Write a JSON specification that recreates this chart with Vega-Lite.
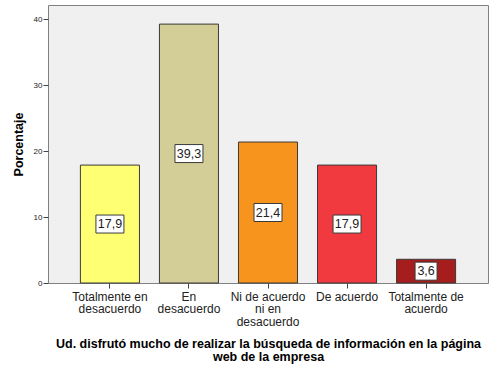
{
  "$schema": "https://vega.github.io/schema/vega-lite/v6.json",
  "autosize": {"type": "none"},
  "padding": {"left": 48, "top": 5, "right": 6, "bottom": 85},
  "width": 440,
  "height": 278,
  "background": "white",
  "config": {
    "font": "Liberation Sans",
    "locale": {"number": {"decimal": ",", "thousands": ".", "grouping": [3], "currency": ["", " €"]}},
    "view": {"fill": "#F0F0F0", "stroke": "#808080", "strokeWidth": 1}
  },
  "data": {
    "values": [
      {"categoria": "Totalmente en desacuerdo", "Porcentaje": 17.9},
      {"categoria": "En desacuerdo", "Porcentaje": 39.3},
      {"categoria": "Ni de acuerdo ni en desacuerdo", "Porcentaje": 21.4},
      {"categoria": "De acuerdo", "Porcentaje": 17.9},
      {"categoria": "Totalmente de acuerdo", "Porcentaje": 3.6}
    ]
  },
  "transform": [{"calculate": "datum.Porcentaje / 2", "as": "mitad"}],
  "encoding": {
    "x": {
      "field": "categoria",
      "type": "nominal",
      "sort": null,
      "scale": {"paddingInner": 0.253, "paddingOuter": 0.41},
      "axis": {
        "title": ["Ud. disfrutó mucho de realizar la búsqueda de información en la página", "web de la empresa"],
        "titleFont": "Liberation Sans",
        "titleFontSize": 12.5,
        "titleFontWeight": "bold",
        "titleColor": "#000000",
        "titlePadding": 10,
        "titleLineHeight": 13,
        "labelAngle": 0,
        "labelFontSize": 12,
        "labelColor": "#222222",
        "labelLineHeight": 12.5,
        "labelPadding": 3,
        "labelExpr": "datum.label == 'Totalmente en desacuerdo' ? ['Totalmente en', 'desacuerdo'] : datum.label == 'En desacuerdo' ? ['En', 'desacuerdo'] : datum.label == 'Ni de acuerdo ni en desacuerdo' ? ['Ni de acuerdo', 'ni en', 'desacuerdo'] : datum.label == 'Totalmente de acuerdo' ? ['Totalmente de', 'acuerdo'] : datum.label",
        "domain": false,
        "tickColor": "#444444",
        "tickSize": 5
      }
    }
  },
  "layer": [
    {
      "mark": {"type": "bar", "stroke": "#3a3a3a", "strokeWidth": 1},
      "encoding": {
        "y": {
          "field": "Porcentaje",
          "type": "quantitative",
          "scale": {"domain": [0, 42.2], "nice": false, "zero": true},
          "axis": {
            "title": "Porcentaje",
            "titleFont": "Liberation Sans",
            "titleFontSize": 12.5,
            "titleFontWeight": "bold",
            "titleColor": "#000000",
            "titlePadding": 8,
            "values": [0, 10, 20, 30, 40],
            "grid": false,
            "domain": false,
            "labelFontSize": 8,
            "labelColor": "#222222",
            "labelPadding": 1,
            "tickColor": "#444444",
            "tickSize": 5
          }
        },
        "color": {
          "field": "categoria",
          "type": "nominal",
          "sort": null,
          "legend": null,
          "scale": {
            "domain": ["Totalmente en desacuerdo", "En desacuerdo", "Ni de acuerdo ni en desacuerdo", "De acuerdo", "Totalmente de acuerdo"],
            "range": ["#FFFF73", "#D3CE97", "#F7941D", "#F03A3F", "#A51D1D"]
          }
        }
      }
    },
    {
      "mark": {"type": "bar", "fill": "white", "stroke": "#3a3a3a", "strokeWidth": 1, "yOffset": 9, "y2Offset": -9},
      "encoding": {
        "y": {"field": "mitad", "type": "quantitative"},
        "y2": {"field": "mitad"},
        "size": {"condition": {"test": "datum.Porcentaje < 10", "value": 22}, "value": 28}
      }
    },
    {
      "mark": {"type": "text", "fontSize": 12.5, "color": "#222222", "baseline": "middle", "align": "center"},
      "encoding": {
        "y": {"field": "mitad", "type": "quantitative"},
        "text": {"field": "Porcentaje", "type": "quantitative", "format": ".1f"}
      }
    }
  ]
}
